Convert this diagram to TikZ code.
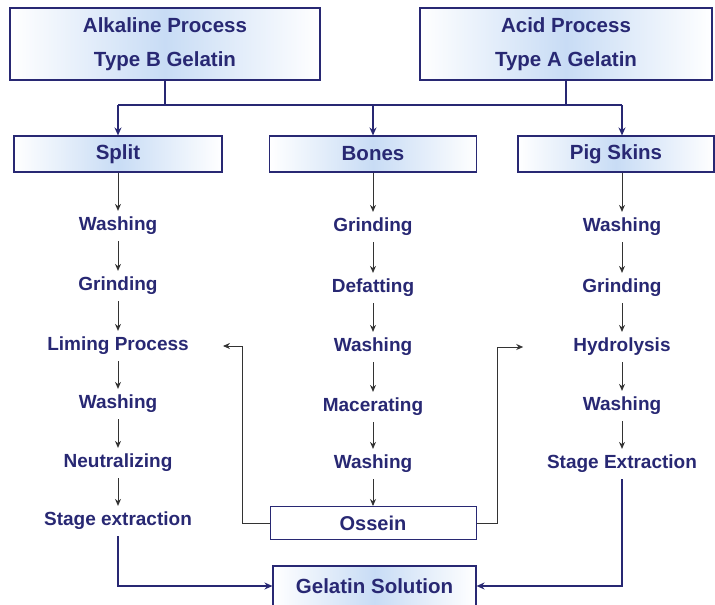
\documentclass[tikz,border=0pt]{standalone}
\usepackage{fontspec}
\setmainfont{Liberation Sans}
\usetikzlibrary{arrows.meta,calc}
\definecolor{navy}{RGB}{40,40,115}
\definecolor{lightfill}{RGB}{200,220,245}
\tikzset{
  x=1pt,y=-1pt,
  lbl/.style={font=\bfseries\fontsize{19}{22}\selectfont, text=navy, inner xsep=2pt, inner ysep=6pt},
  box/.style={draw=navy, line width=1.1pt, left color=white, right color=white, middle color=lightfill,
     font=\bfseries\fontsize{20.5}{34}\selectfont, text=navy, align=center, inner sep=0pt},
  plainbox/.style={draw=navy, line width=1pt, fill=white,
     font=\bfseries\fontsize{20}{22}\selectfont, text=navy, inner sep=0pt},
  flow/.style={-{Stealth[length=7pt,width=6pt]}, black!80, line width=0.9pt},
  main/.style={navy, line width=1.7pt},
  mainarrow/.style={main, -{Stealth[length=8pt,width=7pt]}}
}
\begin{document}
\begin{tikzpicture}
\useasboundingbox (0,0) rectangle (715,605);
% top boxes
\node[box, minimum width=310, minimum height=72] (Alk) at (165,44) {Alkaline Process\\Type B Gelatin};
\node[box, minimum width=292, minimum height=72] (Acid) at (566,44) {Acid Process\\Type A Gelatin};
% second row
\node[box, minimum width=208, minimum height=36] (Split) at (118,154) {Split};
\node[box, minimum width=207, minimum height=36] (Bones) at (373,154) {Bones};
\node[box, minimum width=196, minimum height=36] (Pig) at (616,154) {Pig Skins};
% junction
\coordinate (barL) at (118,105);
\draw[main] (Alk.south) -- (Alk.south |- barL);
\draw[main] (Acid.south) -- (Acid.south |- barL);
\draw[main] (barL) -- (622,105) coordinate (barR);
\draw[mainarrow] (barL) -- (Split.north);
\draw[mainarrow] (Bones.north |- barL) -- (Bones.north);
\draw[mainarrow] (barR) -- (barR |- Pig.north);
% left column
\node[lbl] (L1) at (118,226) {Washing};
\node[lbl] (L2) at (118,286) {Grinding};
\node[lbl] (L3) at (118,346) {Liming Process};
\node[lbl] (L4) at (118,404) {Washing};
\node[lbl] (L5) at (118,463) {Neutralizing};
\node[lbl] (L6) at (118,521) {Stage extraction};
% middle column
\node[lbl] (M1) at (373,227) {Grinding};
\node[lbl] (M2) at (373,288) {Defatting};
\node[lbl] (M3) at (373,347) {Washing};
\node[lbl] (M4) at (373,407) {Macerating};
\node[lbl] (M5) at (373,464) {Washing};
\node[plainbox, minimum width=206, minimum height=33] (Oss) at (373,523) {Ossein};
% right column
\node[lbl] (R1) at (622,227) {Washing};
\node[lbl] (R2) at (622,288) {Grinding};
\node[lbl] (R3) at (622,347) {Hydrolysis};
\node[lbl] (R4) at (622,406) {Washing};
\node[lbl] (R5) at (622,464) {Stage Extraction};
% gelatin solution
\node[box, minimum width=203, minimum height=40] (Gel) at (374.5,586) {Gelatin Solution};
% column arrows
\draw[flow] (Split.south) -- (L1.north);
\draw[flow] (L1) -- (L2);
\draw[flow] (L2) -- (L3);
\draw[flow] (L3) -- (L4);
\draw[flow] (L4) -- (L5);
\draw[flow] (L5) -- (L6);
\draw[flow] (Bones.south) -- (M1.north);
\draw[flow] (M1) -- (M2);
\draw[flow] (M2) -- (M3);
\draw[flow] (M3) -- (M4);
\draw[flow] (M4) -- (M5);
\draw[flow] (M5) -- (Oss);
\draw[flow] (R1.north |- Pig.south) -- (R1.north);
\draw[flow] (R1) -- (R2);
\draw[flow] (R2) -- (R3);
\draw[flow] (R3) -- (R4);
\draw[flow] (R4) -- (R5);
% ossein feedback
\draw[flow, shorten >=32pt] (Oss.west) -- ++(-27,0) |- (L3.east);
\draw[flow, shorten >=48pt] (Oss.east) -- ++(21,0) |- (R3.west);
% to gelatin solution
\draw[mainarrow] (L6.south) |- (Gel.west);
\draw[mainarrow] (R5.south) |- (Gel.east);
\end{tikzpicture}
\end{document}
